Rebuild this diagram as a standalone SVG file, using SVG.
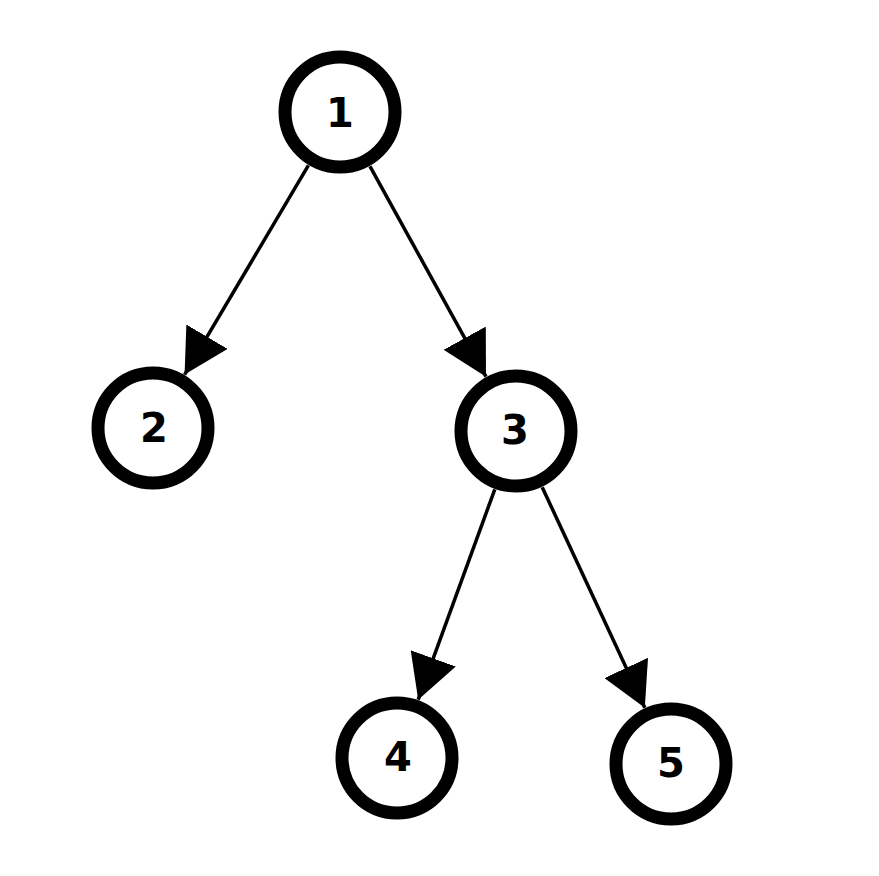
<svg xmlns="http://www.w3.org/2000/svg" width="879" height="876" viewBox="0 0 879 876">
<style>
.node circle{fill:#fff;stroke:#000;stroke-width:13}
.node text{font-family:"DejaVu Sans",sans-serif;font-weight:bold;font-size:40px;fill:#000;text-anchor:middle;dominant-baseline:central}
.edge{stroke:#000;stroke-width:3.5;fill:none;marker-end:url(#arrow)}
</style>
<defs>
<marker id="arrow" markerUnits="userSpaceOnUse" markerWidth="44" markerHeight="48" refX="44" refY="24" orient="auto" viewBox="0 0 44 48">
<path d="M0,0 L44,24 L0,48 z" fill="#000"/>
</marker>
</defs>
<rect width="879" height="876" fill="#fff"/>
<g id="connectors">
<line class="edge" x1="308.4" y1="165.4" x2="184.6" y2="374.6"/>
<line class="edge" x1="370" y1="166.3" x2="486" y2="376.7"/>
<line class="edge" x1="494.8" y1="489.3" x2="418.2" y2="699.7"/>
<line class="edge" x1="542.2" y1="487.2" x2="644.8" y2="707.8"/>
</g>
<g id="node1" class="node"><circle cx="340" cy="112" r="55"/><text x="340" y="113">1</text></g>
<g id="node2" class="node"><circle cx="153" cy="428" r="55"/><text x="154" y="428">2</text></g>
<g id="node3" class="node"><circle cx="516" cy="431" r="55"/><text x="515" y="430">3</text></g>
<g id="node4" class="node"><circle cx="397" cy="758" r="55"/><text x="398" y="757">4</text></g>
<g id="node5" class="node"><circle cx="671" cy="764" r="55"/><text x="671" y="763">5</text></g>
</svg>
